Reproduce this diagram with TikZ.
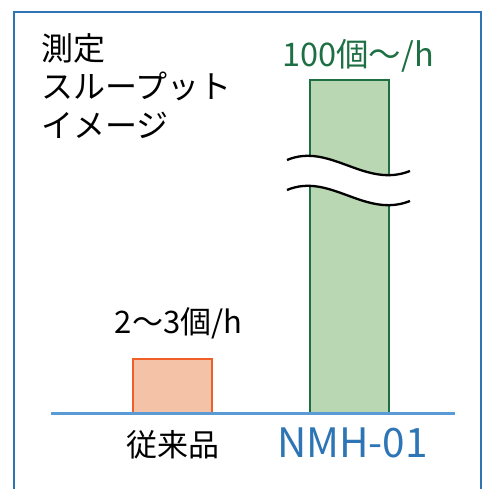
\documentclass[tikz,border=0pt]{standalone}
\usepackage{fontspec}
\setmainfont{Noto Sans CJK JP}
\definecolor{frameblue}{RGB}{46,117,182}
\definecolor{axisblue}{RGB}{91,155,213}
\definecolor{orangeline}{RGB}{240,95,40}
\definecolor{orangefill}{RGB}{244,195,167}
\definecolor{greenline}{RGB}{30,112,68}
\definecolor{greenfill}{RGB}{185,215,178}
\tikzset{
  lbl/.style={inner sep=0pt, font=\fontsize{31}{38}\selectfont},
  barorange/.style={draw=orangeline, fill=orangefill, line width=2pt},
  bargreen/.style={draw=greenline, fill=greenfill, line width=2pt},
  wave/.style={draw=black, line width=2.3pt}
}
\begin{document}
\begin{tikzpicture}[x=1pt,y=1pt]
\useasboundingbox (0,0) rectangle (482,489);
% frame
\draw[frameblue, line width=2pt] (13.5,0) -- (13.5,477) -- (481,477) -- (481,0);
% bars
\draw[barorange] (133.3,75.5) rectangle (211.7,129.7);
\draw[bargreen] (310,75.5) rectangle (389,409);
% break
\fill[white] (287,329) .. controls (330,347) and (365,300) .. (410,318)
  -- (410,288) .. controls (365,270) and (330,317) .. (287,299) -- cycle;
\draw[wave] (287,329) .. controls (330,347) and (365,300) .. (410,318);
\draw[wave] (287,299) .. controls (330,317) and (365,270) .. (410,288);
% axis
\draw[axisblue, line width=3pt] (51,75.5) coordinate (axl) -- (455,75.5) coordinate (axr);
% texts
\node[lbl, anchor=north west, align=left, font=\fontsize{32}{38.5}\selectfont] (title) at (41,456) {測定\\スループット\\イメージ};
\node[lbl, text=greenline, font=\fontsize{32.5}{38}\selectfont] (hi) at (358,433) {100個〜/h};
\node[lbl] (lo) at (178.5,165.7) {2〜3個/h};
\node[lbl] (old) at (172.5,44) {従来品};
\node[lbl, text=frameblue, font=\fontsize{40.5}{44}\selectfont] (new) at (352.5,46.5) {NMH-01};
\end{tikzpicture}
\end{document}
